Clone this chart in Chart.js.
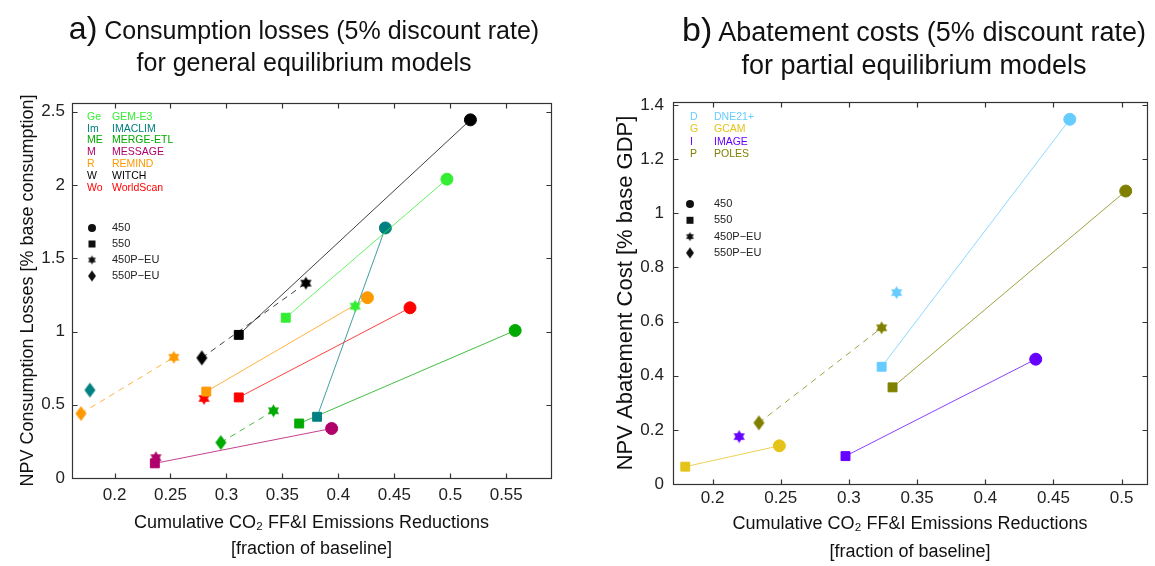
<!DOCTYPE html>
<html>
<head>
<meta charset="utf-8">
<script src="https://cdn.jsdelivr.net/npm/chart.js@4.4.0/dist/chart.umd.min.js"></script>
<style>
  body { margin:0; background:#fff; font-family:"Liberation Sans", Arial, sans-serif; }
  #wrap { position:relative; width:1155px; height:566px; overflow:hidden; }
  canvas { position:absolute; top:0; }
  #c1 { left:0; }
  #c2 { left:575px; }
  .ttl { position:absolute; text-align:center; color:#111; white-space:nowrap; }
  #t1 { left:4px; width:600px; top:12px; font-size:25px; line-height:32px; }
  #t1 span { font-size:32px; }
  #t2 { left:614px; width:600px; top:13px; font-size:27px; line-height:33px; }
  #t2 span { font-size:34px; }
</style>
</head>
<body>
<div id="wrap">
  <canvas id="c1" width="575" height="566"></canvas>
  <canvas id="c2" width="580" height="566"></canvas>
  <div class="ttl" id="t1"><span>a)</span> Consumption losses (5% discount rate)<br>for general equilibrium models</div>
  <div class="ttl" id="t2"><span>b)</span> Abatement costs (5% discount rate)<br>for partial equilibrium models</div>
</div>
<script>
// ---- data: general equilibrium models (panel a) ----
const geModels = ['GEM-E3', 'IMACLIM', 'MERGE-ETL', 'MESSAGE', 'REMIND', 'WITCH', 'WorldScan'];
const geAbbr   = ['Ge', 'Im', 'ME', 'M', 'R', 'W', 'Wo'];
const geColors = ['#33ee33', '#008080', '#00aa00', '#b0006a', '#ff9900', '#000000', '#ff0000'];
// [emission reduction, NPV consumption loss]
const ge450    = [[0.497, 2.04], [0.442, 1.707], [0.558, 1.007], [0.394, 0.338], [0.426, 1.231], [0.518, 2.445], [0.464, 1.162]];
const ge550    = [[0.353, 1.094], [0.381, 0.418], [0.365, 0.372], [0.236, 0.10], [0.282, 0.59], [0.311, 0.977], [0.311, 0.55]];
const ge450PEU = [[0.415, 1.173], null, [0.342, 0.459], [0.237, 0.139], [0.253, 0.824], [0.371, 1.33], [0.280, 0.543]];
const ge550PEU = [null, [0.178, 0.60], [0.295, 0.242], null, [0.170, 0.44], [0.278, 0.82], null];
const geXTicks = [0.2, 0.25, 0.3, 0.35, 0.4, 0.45, 0.5, 0.55];
const geYTicks = [0, 0.5, 1, 1.5, 2, 2.5];

// ---- data: partial equilibrium models (panel b) ----
const peModels = ['DNE21+', 'GCAM', 'IMAGE', 'POLES'];
const peAbbr   = ['D', 'G', 'I', 'P'];
const peColors = ['#66ccff', '#e6c31a', '#6600ff', '#808000'];
const pe450    = [[0.462, 1.347], [0.249, 0.141], [0.437, 0.461], [0.503, 1.082]];
const pe550    = [[0.324, 0.433], [0.180, 0.064], [0.2975, 0.103], [0.332, 0.357]];
const pe450PEU = [[0.335, 0.707], null, [0.2195, 0.175], [0.324, 0.577]];
const pe550PEU = [null, null, null, [0.234, 0.226]];
const peXTicks = [0.2, 0.25, 0.3, 0.35, 0.4, 0.45, 0.5];
const peYTicks = [0, 0.2, 0.4, 0.6, 0.8, 1, 1.2, 1.4];

const scenarios = ['450', '550', '450P\u2212EU', '550P\u2212EU'];

Chart.defaults.font.family = '"Liberation Sans", Arial, sans-serif';
Chart.defaults.color = '#222';

// filled six-pointed star and tall diamond as point images
function starImg(color, r) {
  const c = document.createElement('canvas');
  const s = Math.ceil(r * 2 + 2);
  c.width = c.height = s;
  const g = c.getContext('2d');
  g.fillStyle = color;
  for (let k = 0; k < 2; k++) {
    g.beginPath();
    for (let i = 0; i < 3; i++) {
      const a = -Math.PI / 2 + k * Math.PI + i * 2 * Math.PI / 3;
      const px = s / 2 + r * Math.cos(a), py = s / 2 + r * Math.sin(a);
      i ? g.lineTo(px, py) : g.moveTo(px, py);
    }
    g.closePath();
    g.fill();
  }
  return c;
}
function diamondImg(color, w, h) {
  const c = document.createElement('canvas');
  c.width = w + 2; c.height = h + 2;
  const g = c.getContext('2d');
  g.fillStyle = color;
  g.beginPath();
  g.moveTo(c.width / 2, 1); g.lineTo(c.width - 1, c.height / 2);
  g.lineTo(c.width / 2, c.height - 1); g.lineTo(1, c.height / 2);
  g.closePath(); g.fill();
  return c;
}

function fade(hex) {
  const n = parseInt(hex.slice(1), 16);
  return `rgba(${n >> 16},${(n >> 8) & 255},${n & 255},0.75)`;
}

function buildSets(colors, p450, p550, p450e, p550e) {
  const sets = [];
  colors.forEach((col, i) => {
    const pts = [], st = [], rad = [];
    if (p550[i]) { pts.push({x: p550[i][0], y: p550[i][1]}); st.push('rect'); rad.push(6.3); }
    if (p450[i]) { pts.push({x: p450[i][0], y: p450[i][1]}); st.push('circle'); rad.push(6); }
    sets.push({ data: pts, showLine: true, borderColor: fade(col), borderWidth: 1, pointStyle: st,
      pointRadius: rad, pointBackgroundColor: col, pointBorderColor: col, pointBorderWidth: 1 });
    const eu = [], est = [];
    if (p550e[i]) { eu.push({x: p550e[i][0], y: p550e[i][1]}); est.push(diamondImg(col, 11, 15)); }
    if (p450e[i]) { eu.push({x: p450e[i][0], y: p450e[i][1]}); est.push(starImg(col, 6.5)); }
    sets.push({ data: eu, showLine: true, borderColor: fade(col), borderWidth: 1, borderDash: [6, 5],
      pointStyle: est, pointRadius: 6 });
  });
  return sets;
}

// box with inward tick marks
const framePlugin = {
  id: 'frame',
  afterDatasetsDraw(chart) {
    const {ctx, chartArea: a, scales: {x, y}} = chart;
    const L = Math.round(a.left) + 0.5, R = Math.round(a.right) + 0.5;
    const T = Math.round(a.top) + 0.5, B = Math.round(a.bottom) + 0.5;
    ctx.save();
    ctx.strokeStyle = '#333';
    ctx.lineWidth = 1.2;
    ctx.strokeRect(L, T, R - L, B - T);
    ctx.beginPath();
    x.ticks.forEach(t => {
      const p = Math.round(x.getPixelForValue(t.value)) + 0.5;
      ctx.moveTo(p, B); ctx.lineTo(p, B - 5);
      ctx.moveTo(p, T); ctx.lineTo(p, T + 5);
    });
    y.ticks.forEach(t => {
      const p = Math.round(y.getPixelForValue(t.value)) + 0.5;
      ctx.moveTo(L, p); ctx.lineTo(L + 5, p);
      ctx.moveTo(R, p); ctx.lineTo(R - 5, p);
    });
    ctx.stroke();
    ctx.restore();
  }
};

// coloured text legend + marker legend inside the plot
const textLegend = {
  id: 'textLegend',
  afterDraw(chart, args, o) {
    const {ctx, chartArea: a} = chart;
    ctx.save();
    ctx.textBaseline = 'middle';
    ctx.font = '10.5px "Liberation Sans", Arial, sans-serif';
    o.names.forEach((n, i) => {
      const yy = a.top + o.y0 + i * o.dy;
      ctx.fillStyle = o.colors[i];
      ctx.fillText(o.abbr[i], a.left + o.x1, yy);
      ctx.fillText(n, a.left + o.x2, yy);
    });
    ctx.font = '11px "Liberation Sans", Arial, sans-serif';
    scenarios.forEach((s, i) => {
      const yy = a.top + o.my0 + i * o.mdy, xx = a.left + o.mx;
      ctx.fillStyle = '#111';
      if (i === 0) { ctx.beginPath(); ctx.arc(xx, yy, 4, 0, 2 * Math.PI); ctx.fill(); }
      if (i === 1) { ctx.fillRect(xx - 3.5, yy - 3.5, 7, 7); }
      if (i === 2) { const im = starImg('#111', 4.5); ctx.drawImage(im, xx - im.width / 2, yy - im.height / 2); }
      if (i === 3) { const im = diamondImg('#111', 8, 11); ctx.drawImage(im, xx - im.width / 2, yy - im.height / 2); }
      ctx.fillStyle = '#222';
      ctx.fillText(s, a.left + o.x2, yy);
    });
    ctx.restore();
  }
};

function makeChart(id, cfg) {
  return new Chart(document.getElementById(id), {
    type: 'scatter',
    data: { datasets: buildSets(cfg.colors, cfg.p450, cfg.p550, cfg.p450e, cfg.p550e) },
    plugins: [framePlugin, textLegend],
    options: {
      responsive: false,
      animation: false,
      events: [],
      clip: false,
      layout: { padding: cfg.pad },
      elements: { line: { tension: 0 } },
      plugins: { legend: { display: false }, tooltip: { enabled: false },
        textLegend: cfg.legend },
      scales: {
        x: {
          type: 'linear', min: cfg.xRange[0], max: cfg.xRange[1],
          afterBuildTicks: s => { s.ticks = cfg.xTicks.map(v => ({value: v})); },
          afterFit: s => { s.height = cfg.xH; },
          grid: { display: false, drawTicks: false },
          border: { display: false },
          ticks: { font: { size: 17 }, color: '#222', padding: cfg.xPad, maxRotation: 0, callback: v => String(v) },
          title: { display: true, text: ['Cumulative CO\u2082 FF&I Emissions Reductions', '[fraction of baseline]'],
            font: { size: 18, lineHeight: cfg.xTitleLH }, color: '#111', padding: { top: 0, bottom: cfg.xTitlePad } }
        },
        y: {
          type: 'linear', min: cfg.yRange[0], max: cfg.yRange[1],
          afterBuildTicks: s => { s.ticks = cfg.yTicks.map(v => ({value: v})); },
          afterFit: s => { s.width = cfg.yW; },
          grid: { display: false, drawTicks: false },
          border: { display: false },
          ticks: { font: { size: 17 }, color: '#222', padding: cfg.yPad, callback: v => String(v) },
          title: { display: true, text: cfg.yTitle, font: { size: cfg.yTitleSize }, color: '#111',
            padding: { top: cfg.yTitlePad, bottom: 0 } }
        }
      }
    }
  });
}

makeChart('c1', {
  colors: geColors, p450: ge450, p550: ge550, p450e: ge450PEU, p550e: ge550PEU,
  xTicks: geXTicks, yTicks: geYTicks, xRange: [0.162, 0.59], yRange: [0, 2.56],
  pad: { top: 103, right: 24, left: 0, bottom: 0 }, xH: 88, yW: 72,
  xPad: 7, yPad: 7, xTitlePad: 4, xTitleLH: 1.45, yTitlePad: 17, yTitleSize: 18,
  yTitle: 'NPV Consumption Losses [% base consumption]',
  legend: { names: geModels, abbr: geAbbr, colors: geColors, x1: 15, x2: 40, y0: 14, dy: 11.8,
    mx: 20, my0: 125, mdy: 16 }
});

makeChart('c2', {
  colors: peColors, p450: pe450, p550: pe550, p450e: pe450PEU, p550e: pe550PEU,
  xTicks: peXTicks, yTicks: peYTicks, xRange: [0.171, 0.5186], yRange: [0, 1.411],
  pad: { top: 102, right: 8, left: 0, bottom: 0 }, xH: 82, yW: 98,
  xPad: 4, yPad: 9, xTitlePad: 0, xTitleLH: 1.55, yTitlePad: 38, yTitleSize: 22,
  yTitle: 'NPV Abatement Cost [% base GDP]',
  legend: { names: peModels, abbr: peAbbr, colors: peColors, x1: 17, x2: 41, y0: 15.5, dy: 12.1,
    mx: 17, my0: 102, mdy: 16.3 }
});
</script>
</body>
</html>
